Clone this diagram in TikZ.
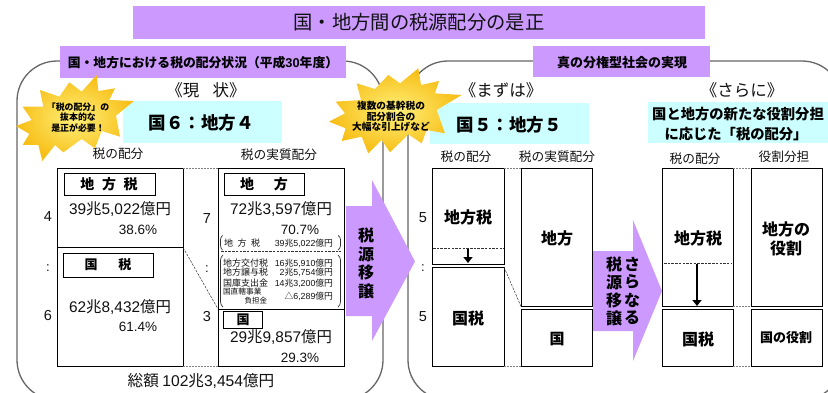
\documentclass[tikz,border=0pt]{standalone}
\usepackage{fontspec}
\usetikzlibrary{arrows.meta}
\setmainfont{Noto Sans CJK JP}[BoldFont={Noto Sans CJK JP Black}]
\newfontfamily\lat{Liberation Sans}
\newcommand{\A}[1]{{\lat #1}}
\definecolor{purp}{HTML}{CC99FF}
\definecolor{cyanbox}{HTML}{CCFFFF}
\definecolor{panel}{HTML}{666666}
\definecolor{txt}{HTML}{111111}
\definecolor{starin}{HTML}{FFF07A}
\definecolor{starout}{HTML}{F7BE16}
\tikzset{
  x=1pt,y=-1pt,
  panelbox/.style={draw=panel,line width=1.3pt,rounded corners=40pt},
  band/.style={fill=purp,draw=none},
  tealbox/.style={fill=cyanbox,draw=none},
  tbl/.style={draw=black,line width=1pt,fill=white},
  lbl/.style={draw=black,line width=0.9pt,fill=white},
  dashg/.style={draw=gray,line width=0.6pt,dash pattern=on 2pt off 1pt},
  ddash/.style={draw=black!80,line width=0.5pt,dash pattern=on 2.5pt off 1.2pt},
  tn/.style={inner sep=0pt,outer sep=0pt,text=txt,font=\fontsize{#1}{#1}\selectfont,align=center},
  bd/.style={inner sep=0pt,outer sep=0pt,text=black,font=\fontsize{#1}{#1}\bfseries\selectfont,align=center},
  downarrow/.style={draw=black,line width=1.6pt,-{Triangle[width=9pt,length=6pt]}},
  stararrow/.style={fill=purp,draw=none},
  starfill/.style={inner color=starin,outer color=starout},
}
\begin{document}
\begin{tikzpicture}
\useasboundingbox (0,0) rectangle (828,392);
\clip (0,0) rectangle (828,392);
\fill[white] (0,0) rectangle (828,392);
% panels
\draw[panelbox] (17,61) rectangle (383,400);
\draw[panelbox] (408,61) rectangle (842,400);
% title
\fill[band] (133,6) rectangle (705,39);
\node[tn=19.3] (title) at (419,22.5) {国・地方間の税源配分の是正};
\fill[band] (60,46) rectangle (346,78);
\node[bd=12.8] (h1) at (203,62.5) {国・地方における税の配分状況（平成\A{30}年度）};
\fill[band] (533,46) rectangle (710,77);
\node[bd=13] (h2) at (622,62.5) {真の分権型社会の実現};
% headings
\node[tn=16.5] at (206,90) {《現\hspace{0.8em}状》};
\node[tn=16.5] at (501,90) {《まずは》};
\node[tn=16.5] at (742,90) {《さらに》};
\fill[tealbox] (123,101) rectangle (282,143);
\node[bd=17.5] at (201,122.5) {国６：地方４};
\fill[tealbox] (430,103) rectangle (589,144);
\node[bd=17.5] at (509,124.5) {国５：地方５};
\fill[tealbox] (648,102) rectangle (828,143);
\node[bd=14.3] at (738,114) {国と地方の新たな役割分担};
\node[bd=14.3] at (736,134) {に応じた「税の配分」};
% column captions
\node[tn=12.7] at (118,153.5) {税の配分};
\node[tn=12.7] at (279,154.5) {税の実質配分};
\node[tn=12.7] at (466,156.5) {税の配分};
\node[tn=12.7] at (557,156.5) {税の実質配分};
\node[tn=12.7] at (695,158.5) {税の配分};
\node[tn=12.7] at (784,157) {役割分担};
% left tables
\draw[tbl] (57.5,168) rectangle (183,366);
\draw[black,line width=1pt] (57.5,247.5) -- (183,247.5);
\draw[tbl] (218,168) rectangle (344,366);
\draw[black,line width=1pt] (218,309) -- (344,309);
\draw[dashg] (183,168) -- (218,168);
\draw[dashg] (183,366) -- (218,366);
\draw[ddash] (183,247.5) -- (218,309);
\draw[lbl] (64,173) rectangle (155,195);
\node[bd=14] at (109,184) {地\hspace{0.55em}方\hspace{0.55em}税};
\draw[lbl] (63,253) rectangle (153,277);
\node[bd=13] at (108,265) {国\hspace{1.6em}税};
\draw[lbl] (224,173) rectangle (304,195);
\node[bd=14] at (264,184) {地\hspace{1.4em}方};
\draw[lbl] (223,311) rectangle (262,328);
\node[bd=13] at (243,320) {国};
\node[tn=15.4] at (120,209) {\A{39}兆\A{5,022}億円};
\node[tn=13.5] at (138,229.5) {\A{38.6\%}};
\node[tn=15.4] at (120,307.5) {\A{62}兆\A{8,432}億円};
\node[tn=13.5] at (138,327) {\A{61.4\%}};
\node[tn=15.4] at (281,209) {\A{72}兆\A{3,597}億円};
\node[tn=13.5] at (300,229.5) {\A{70.7\%}};
\node[tn=15.4] at (281,337) {\A{29}兆\A{9,857}億円};
\node[tn=13.5] at (300,358) {\A{29.3\%}};
\node[tn=14.5] at (48,217) {\A{4}};
\node[tn=13] at (48,268) {\A{:}};
\node[tn=14.5] at (48,316) {\A{6}};
\node[tn=14.5] at (207,219) {\A{7}};
\node[tn=13] at (207,269) {\A{:}};
\node[tn=14.5] at (207,317) {\A{3}};
% detail brackets
\draw[black!80,line width=0.7pt,rounded corners=2.5pt] (222.5,235.5) -- (220.5,237) -- (220.5,248) -- (222.5,250);
\draw[black!80,line width=0.7pt,rounded corners=2.5pt] (338,235.5) -- (340.5,237) -- (340.5,248) -- (338,250);
\draw[ddash] (221,251.5) -- (341,251.5);
\draw[black!80,line width=0.7pt,rounded corners=3pt] (223,255) -- (220.5,257) -- (220.5,305) -- (223,307);
\draw[black!80,line width=0.7pt,rounded corners=3pt] (338,255) -- (340.5,257) -- (340.5,305) -- (338,307);
\node[tn=9,anchor=west] at (224,243) {地\hspace{0.5em}方\hspace{0.5em}税};
\node[tn=9,anchor=west] at (223,263) {地方交付税};
\node[tn=9,anchor=west] at (223,272) {地方譲与税};
\node[tn=9,anchor=west] at (223,283) {国庫支出金};
\node[tn=7.7,anchor=west] at (223,292) {国直轄事業};
\node[tn=7.5,anchor=east] at (267,301) {負担金};
\node[tn=8.8,anchor=east] at (333,243) {\A{39}兆\A{5,022}億円};
\node[tn=8.8,anchor=east] at (333,263) {\A{16}兆\A{5,910}億円};
\node[tn=8.8,anchor=east] at (333,272) {\A{2}兆\A{5,754}億円};
\node[tn=8.8,anchor=east] at (333,283) {\A{14}兆\A{3,200}億円};
\node[tn=8.8,anchor=east] at (333,296) {△\A{6,289}億円};
\node[tn=15.6] at (201,381) {総額 \A{102}兆\A{3,454}億円};
% arrows
\fill[stararrow] (346,206) -- (372,206) -- (372,180) -- (415,261.5) -- (372,341) -- (372,316) -- (346,316) -- cycle;
\node[bd=16] at (366,235) {税};
\node[bd=16] at (366,254) {源};
\node[bd=16] at (366,272) {移};
\node[bd=16] at (366,291) {譲};
% right tables
\draw[tbl] (432.5,168) rectangle (504,264);
\draw[tbl] (432.5,267) rectangle (504,366);
\draw[tbl] (521,168) rectangle (592,306.5);
\draw[tbl] (521,309) rectangle (592,366);
\draw[dashg] (504,168) -- (521,168);
\draw[dashg] (504,366) -- (521,366);
\draw[ddash] (504,267) -- (521,306.5);
\draw[ddash] (433,248.5) -- (503.5,248.5);
\coordinate (a1s) at (468,249); \coordinate (a1e) at (468,263);
\draw[downarrow] (a1s) -- (a1e);
\node[bd=16] at (468,217) {地方税};
\node[bd=16] at (468,318) {国税};
\node[bd=16] at (557,238.5) {地方};
\node[bd=15] at (557,339) {国};
\node[tn=14.5] at (423,218) {\A{5}};
\node[tn=13] at (423,268) {\A{:}};
\node[tn=14.5] at (423,317) {\A{5}};
\fill[stararrow] (593,251) -- (633,251) -- (633,220) -- (662,291) -- (633,361) -- (633,331) -- (593,331) -- cycle;
\node[bd=16] at (614,264) {税};
\node[bd=16] at (632,264) {さ};
\node[bd=16] at (614,282) {源};
\node[bd=16] at (632,282) {ら};
\node[bd=16] at (614,300) {移};
\node[bd=16] at (632,300) {な};
\node[bd=16] at (614,318) {譲};
\node[bd=16] at (632,318) {る};
\draw[tbl] (662.5,168) rectangle (733,306.5);
\draw[tbl] (662.5,309) rectangle (733,366);
\draw[tbl] (751,168) rectangle (822,306.5);
\draw[tbl] (751,309) rectangle (822,366);
\draw[dashg] (733,168) -- (751,168);
\draw[dashg] (733,306.5) -- (751,306.5);
\draw[dashg] (733,366) -- (751,366);
\draw[ddash] (664,263.5) -- (731,263.5);
\coordinate (a2s) at (697,264); \coordinate (a2e) at (697,306);
\draw[downarrow] (a2s) -- (a2e);
\node[bd=16] at (698,238.5) {地方税};
\node[bd=16] at (698,339) {国税};
\node[bd=16] at (786,229) {地方の};
\node[bd=16] at (786,248) {役割};
\node[bd=13] at (786,338) {国の役割};
% stars
\begin{scope}[shift={(10,65)},x=0.3333pt,y=-0.3333pt]
\shade[starfill] (260,30)--(265,78)--(315,70)--(298,105)--(372,108)--(318,152)--(330,215)--(275,198)--(255,250)--(215,222)--(160,262)--(135,240)--(97,288)--(85,240)--(38,240)--(58,207)--(18,183)--(65,165)--(38,125)--(100,125)--(90,75)--(148,95)--(178,52)--(215,80)--cycle;
\end{scope}
\begin{scope}[shift={(325,65)},x=0.3333pt,y=-0.3333pt]
\shade[starfill] (280,10)--(288,60)--(342,48)--(330,85)--(410,90)--(335,135)--(360,205)--(305,195)--(290,235)--(250,208)--(195,262)--(170,225)--(130,265)--(110,215)--(50,228)--(62,190)--(12,170)--(60,145)--(32,110)--(108,105)--(95,55)--(150,72)--(190,30)--(225,55)--cycle;
\end{scope}
\node[bd=8.9] at (78,107) {「税の配分」の};
\node[bd=8.9] at (78,117.5) {抜本的な};
\node[bd=8.9] at (78,128) {是正が必要！};
\node[bd=9.7] at (391,106) {複数の基幹税の};
\node[bd=9.7] at (391,116.5) {配分割合の};
\node[bd=9.7] at (391,126.5) {大幅な引上げなど};
\end{tikzpicture}
\end{document}
